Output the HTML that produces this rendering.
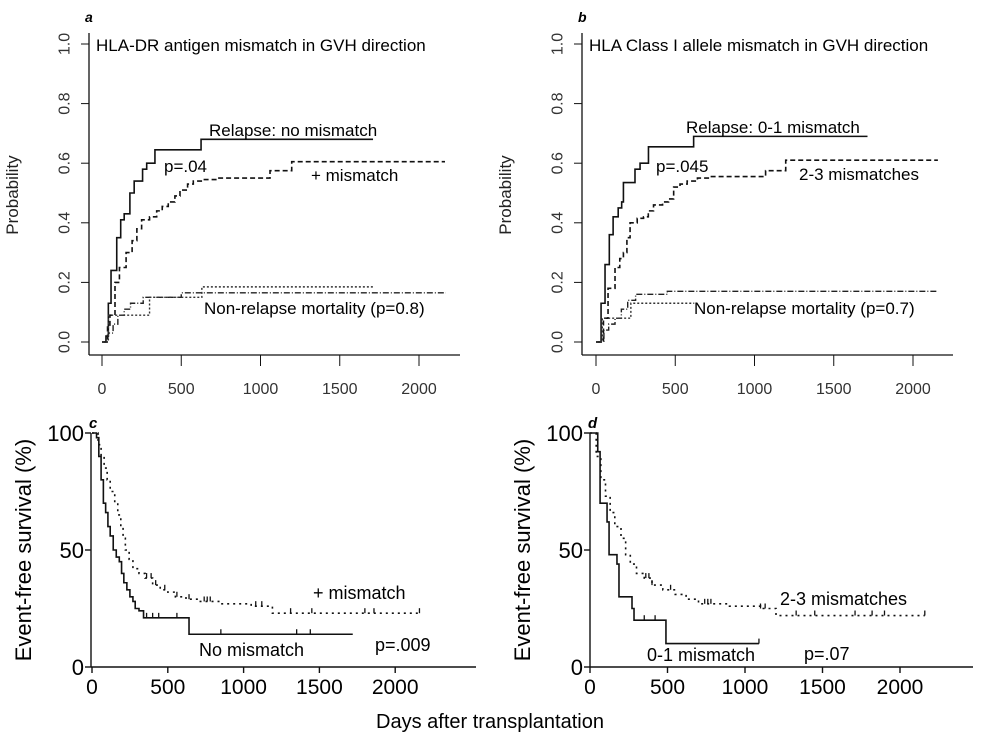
<!DOCTYPE html>
<html><head><meta charset="utf-8"><style>
body{margin:0;background:#fff;}
svg{display:block;font-family:"Liberation Sans",sans-serif;}
</style></head><body>
<svg id="fig" width="981" height="736" viewBox="0 0 981 736"></svg>
<script>
// Panel a data (day, probability)
const aRelNoX=[0,20,25,40,57,93,118,140,176,203,256,282,334,625,1710];
const aRelNoY=[0,0,0.02,0.13,0.24,0.35,0.41,0.43,0.50,0.54,0.58,0.60,0.645,0.68,0.68];
const aRelMmX=[0,20,35,50,82,110,152,190,220,250,300,345,380,418,460,492,540,576,640,724,1060,1197,2164];
const aRelMmY=[0,0,0.05,0.09,0.20,0.25,0.30,0.34,0.38,0.41,0.42,0.44,0.455,0.47,0.49,0.51,0.53,0.54,0.545,0.55,0.575,0.605,0.605];
const aNrm1X=[0,20,40,70,100,140,180,260,500,2170];
const aNrm1Y=[0,0,0.03,0.06,0.09,0.11,0.13,0.15,0.165,0.165];
const aNrm2X=[0,20,40,160,300,630,1710];
const aNrm2Y=[0,0,0.09,0.09,0.15,0.185,0.185];
// Panel b
const bRelX=[0,20,32,57,84,108,140,162,173,246,278,331,616,1713];
const bRelY=[0,0,0.13,0.26,0.36,0.42,0.45,0.47,0.535,0.58,0.60,0.655,0.69,0.69];
const bRelMmX=[0,20,47,76,120,150,173,195,215,260,300,330,363,420,458,490,530,575,640,722,1070,1197,2157];
const bRelMmY=[0,0,0.08,0.18,0.25,0.28,0.30,0.35,0.40,0.415,0.42,0.44,0.46,0.47,0.48,0.52,0.53,0.54,0.55,0.555,0.575,0.61,0.61];
const bNrm1X=[0,20,50,80,120,160,200,250,450,2160];
const bNrm1Y=[0,0,0.04,0.06,0.08,0.11,0.14,0.16,0.17,0.17];
const bNrm2X=[0,20,40,130,220,620];
const bNrm2Y=[0,0,0.08,0.08,0.13,0.13];
// Panel c (day, %)
const cNoX=[0,10,30,45,60,75,90,105,120,140,160,180,195,210,230,250,270,285,310,340,630,640,1720];
const cNoY=[100,100,98,90,80,70,66,60,56,50,47,45,40,36,33,30,28,25,24,21,21,14,14];
const cMmX=[0,20,40,60,80,100,120,150,170,190,205,220,245,270,310,350,400,450,500,550,620,700,850,1050,1190,2160];
const cMmY=[100,100,95,90,85,80,75,70,65,60,55,50,46,42,40,38,35,33,32,30,29,28,27,26,23,23];
const cNoCens=[360,400,440,560,850,1350,1440];
const cMmCens=[360,390,420,480,560,640,740,760,780,1080,1120,1310,1450,1800,1860,2160];
// Panel d
const dLowX=[0,30,50,65,110,123,174,187,271,284,490,1090];
const dLowY=[100,100,92,70,62,48,44,30,25,20,10,10];
const dMmX=[0,20,40,70,100,130,160,200,230,260,300,350,400,470,550,620,700,900,1100,1200,2160];
const dMmY=[100,100,90,80,73,66,60,55,48,44,40,38,35,33,31,29,27,26,25,22,22];
const dLowCens=[350,420,1090];
const dMmCens=[360,380,400,520,740,760,780,1100,1130,1330,1450,1710,1820,1900,2160];
const topTicks=[0,500,1000,1500,2000];
const probTicks=["0.0","0.2","0.4","0.6","0.8","1.0"];
const survTicks=[0,50,100];

const NS="http://www.w3.org/2000/svg";
const svg=document.getElementById('fig');
function el(tag,attrs,parent){const e=document.createElementNS(NS,tag);for(const k in attrs)e.setAttribute(k,attrs[k]);(parent||svg).appendChild(e);return e;}
function txt(s,attrs,name){const t=el('text',attrs);t.textContent=s;


return t;}
function stepPath(xs,ys,sx,sy){let d='M'+sx(xs[0])+','+sy(ys[0]);for(let i=1;i<xs.length;i++){d+=' H'+sx(xs[i])+' V'+sy(ys[i]);}return d;}
function line(xs,ys,sx,sy,dash,w,col,name){const p=el('path',{d:stepPath(xs,ys,sx,sy),fill:'none',stroke:col||'#111','stroke-width':w||1.5,'stroke-dasharray':dash||'none'});

}

function probPanel(ax,x0,letter,title,labels,series){
  const sx=d=>x0+d*0.1585, sy=v=>342-v*298;
  txt(letter,{x:ax-4,y:22,'font-size':14,'font-weight':'bold','font-style':'italic'},'panel-label-'+letter);
  const yl=el('line',{x1:ax,y1:33,x2:ax,y2:355,stroke:'#111','stroke-width':1.3});
  
  
  const xl=el('line',{x1:ax,y1:355,x2:ax+371,y2:355,stroke:'#111','stroke-width':1.3});
  
  
  probTicks.forEach((t,i)=>{const y=sy(+t);el('line',{x1:ax-8,y1:y,x2:ax,y2:y,stroke:'#111'});
    txt(t,{x:0,y:0,transform:`translate(${ax-24},${y}) rotate(-90)`,'text-anchor':'middle','dominant-baseline':'central','font-size':16,fill:'#333'},'y-tick-label');});
  topTicks.forEach(t=>{const x=sx(t);el('line',{x1:x,y1:355,x2:x,y2:366,stroke:'#111'});
    txt(String(t),{x:x,y:394,'text-anchor':'middle','font-size':16,fill:'#333'},'x-tick-label');});
  txt('Probability',{x:0,y:0,transform:`translate(${ax-71},195) rotate(-90)`,'text-anchor':'middle','font-size':17,fill:'#222'},'y-axis-title-'+letter);
  txt(title,{x:ax+7,y:51,'font-size':17},'panel-title-'+letter);
  series.forEach(s=>line(s[0],s[1],sx,sy,s[2],s[3],s[4],s[5]));
  labels.forEach(l=>txt(l[0],{x:l[1],y:l[2],'font-size':17},l[3]));
}
probPanel(89,102,'a','HLA-DR antigen mismatch in GVH direction',
 [['Relapse: no mismatch',209,136,'relapse-no-mismatch-label'],['p=.04',164,172,'p-value-a'],['+ mismatch',311,181,'relapse-mismatch-label'],['Non-relapse mortality (p=0.8)',204,314,'nrm-label-a']],
 [[aRelNoX,aRelNoY,'none',1.6,'#111','relapse-no-mismatch-line'],[aRelMmX,aRelMmY,'5,3',1.6,'#111','relapse-mismatch-line'],
  [aNrm1X,aNrm1Y,'6,2,1,2',1.4,'#222','nrm-mismatch-line'],[aNrm2X,aNrm2Y,'2,2',1.4,'#333','nrm-no-mismatch-line']]);
probPanel(582,596,'b','HLA Class I allele mismatch in GVH direction',
 [['Relapse: 0-1 mismatch',686,133,'relapse-low-label'],['p=.045',656,172,'p-value-b'],['2-3 mismatches',799,180,'relapse-high-label'],['Non-relapse mortality (p=0.7)',694,314,'nrm-label-b']],
 [[bRelX,bRelY,'none',1.6,'#111','relapse-low-line'],[bRelMmX,bRelMmY,'5,3',1.6,'#111','relapse-high-line'],
  [bNrm1X,bNrm1Y,'6,2,1,2',1.4,'#222','nrm-high-line'],[bNrm2X,bNrm2Y,'2,2',1.4,'#333','nrm-low-line']]);

function survPanel(ax,x0,scale,endX,letter,labels,series,cens){
  const sx=d=>x0+d*scale, sy=v=>667-v*2.34;
  txt(letter,{x:ax-2,y:428,'font-size':15,'font-weight':'bold','font-style':'italic'},'panel-label-'+letter);
  const yl=el('line',{x1:ax,y1:433,x2:ax,y2:667,stroke:'#111','stroke-width':1.4});
  
  
  const xl=el('line',{x1:ax,y1:667,x2:endX,y2:667,stroke:'#111','stroke-width':1.4});
  
  
  survTicks.forEach(t=>{const y=sy(t);el('line',{x1:ax-6,y1:y,x2:ax,y2:y,stroke:'#111','stroke-width':1.4});
    txt(String(t),{x:ax-7,y:y+8,'text-anchor':'end','font-size':22},'y-tick-label');});
  topTicks.forEach(t=>{const x=sx(t);el('line',{x1:x,y1:667,x2:x,y2:673,stroke:'#111','stroke-width':1.4});
    txt(String(t),{x:x,y:694,'text-anchor':'middle','font-size':21},'x-tick-label');});
  txt('Event-free survival (%)',{x:0,y:0,transform:`translate(${ax-60},550) rotate(-90)`,'text-anchor':'middle','font-size':22},'y-axis-title-'+letter);
  series.forEach(s=>line(s[0],s[1],sx,sy,s[2],s[3],'#111',s[4]));
  cens.forEach(c=>{c[0].forEach(d=>{let v=c[2][0];for(let i=0;i<c[1].length;i++){if(c[1][i]<=d)v=c[2][i];}
    const m=el('line',{x1:sx(d),y1:sy(v)-5,x2:sx(d),y2:sy(v),stroke:'#111','stroke-width':1.3});
    
    });});
  labels.forEach(l=>txt(l[0],{x:l[1],y:l[2],'font-size':18},l[3]));
}
survPanel(91,92,0.1516,476,'c',
 [['+ mismatch',313,599,'mismatch-label-c'],['No mismatch',199,656,'no-mismatch-label-c'],['p=.009',375,651,'p-value-c']],
 [[cNoX,cNoY,'none',1.6,'no-mismatch-curve'],[cMmX,cMmY,'2,4',1.6,'mismatch-curve']],
 [[cNoCens,cNoX,cNoY],[cMmCens,cMmX,cMmY]]);
survPanel(590,590,0.155,973,'d',
 [['2-3 mismatches',780,605,'high-mismatch-label-d'],['0-1 mismatch',647,661,'low-mismatch-label-d'],['p=.07',804,660,'p-value-d']],
 [[dLowX,dLowY,'none',1.6,'low-mismatch-curve'],[dMmX,dMmY,'2,4',1.6,'high-mismatch-curve']],
 [[dLowCens,dLowX,dLowY],[dMmCens,dMmX,dMmY]]);
txt('Days after transplantation',{x:490,y:728,'text-anchor':'middle','font-size':20},'x-axis-title');
</script>
</body></html>
